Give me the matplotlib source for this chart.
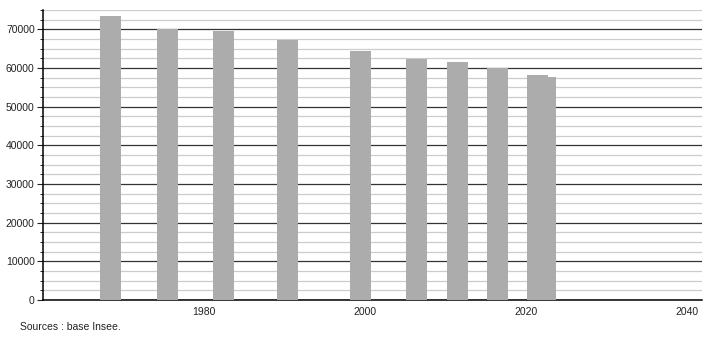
import matplotlib.pyplot as plt
from matplotlib.ticker import MultipleLocator

years = [1968, 1975, 1982, 1990, 1999, 2006, 2011, 2016, 2021, 2022]
population = [73450, 70000, 69480, 67150, 64300, 62400, 61530, 60070, 58150, 57800]

plt.rcParams['font.family'] = ['Liberation Sans', 'DejaVu Sans']

fig = plt.figure(figsize=(7.1, 3.4), dpi=100)
ax = fig.add_axes([0.0606, 0.1176, 0.928, 0.853])
ax.set_axisbelow(True)

ax.bar([y + 0.4 for y in years], population, width=2.6, color='#acacac', zorder=3)

ax.set_xlim(1960, 2041.8)
ax.set_ylim(0, 75000)
ax.set_xticks([1980, 2000, 2020, 2040])
ax.yaxis.set_major_locator(MultipleLocator(10000))
ax.yaxis.set_minor_locator(MultipleLocator(2500))
ax.grid(axis='y', which='major', color='#333333', linewidth=0.9)
ax.grid(axis='y', which='minor', color='#cccccc', linewidth=0.9)

for s in ['top', 'right']:
    ax.spines[s].set_visible(False)
ax.spines['left'].set_linewidth(1.1)
ax.spines['bottom'].set_linewidth(1.1)
ax.tick_params(axis='y', which='major', length=4, labelsize=7.5, pad=2, colors='#222222')
ax.tick_params(axis='y', which='minor', length=2)
ax.tick_params(axis='x', length=0, labelsize=7.5, pad=5, colors='#222222')

fig.text(20 / 710, 1 - 327 / 340, 'Sources : base Insee.', fontsize=7.5, va='center', color='#222222')

fig.savefig('out.png', dpi=100)
